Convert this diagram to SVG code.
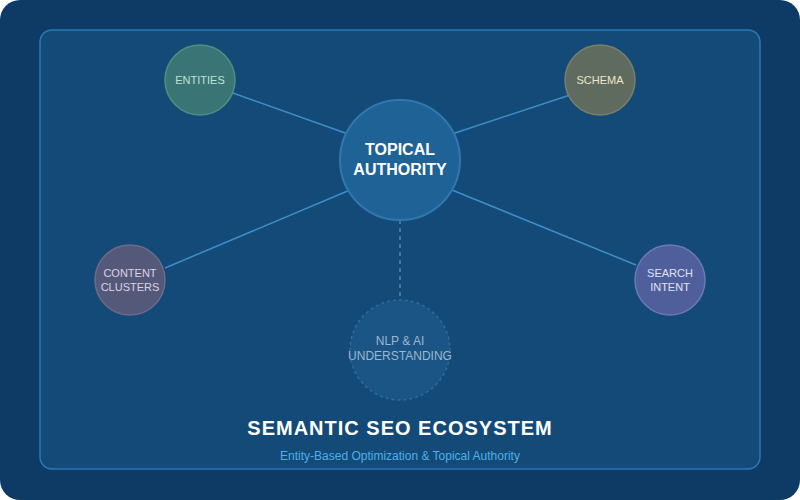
<svg xmlns="http://www.w3.org/2000/svg" width="800" height="500" viewBox="0 0 800 500">
<style>
text{font-family:"Liberation Sans",Arial,sans-serif;text-anchor:middle}
.s{font-size:11px}
.c{stroke:#3d8fc8;stroke-width:1.5;fill:none}
</style>
<rect x="0" y="0" width="800" height="500" rx="20" fill="#0d3b66"/>
<rect x="40" y="30" width="720" height="439" rx="12" fill="#134a77" stroke="#2a7ab8" stroke-width="1.5"/>
<g id="connectors">
<line class="c" x1="230" y1="92" x2="348" y2="134"/>
<line class="c" x1="570" y1="95" x2="452" y2="134"/>
<line class="c" x1="165" y1="268" x2="350" y2="190"/>
<line class="c" x1="636" y1="265" x2="452" y2="190"/>
<line class="c" x1="400" y1="220" x2="400" y2="300" stroke-dasharray="4,4"/>
</g>
<g id="entities"><circle cx="200" cy="80" r="35" fill="#3a7474" stroke="#4f8f85" stroke-width="1.5"/><text class="s" x="200" y="84" fill="#bfe3d8">ENTITIES</text></g>
<g id="schema"><circle cx="600" cy="80" r="35" fill="#5e6b5e" stroke="#7a8068" stroke-width="1.5"/><text class="s" x="600" y="84" fill="#f0e6c8">SCHEMA</text></g>
<g id="content"><circle cx="130" cy="280" r="35" fill="#545879" stroke="#6e6a8e" stroke-width="1.5"/><text class="s" x="130" y="277" fill="#ddd3e6">CONTENT</text><text class="s" x="130" y="291" fill="#ddd3e6">CLUSTERS</text></g>
<g id="intent"><circle cx="670" cy="280" r="35" fill="#4f5f9c" stroke="#6c78b8" stroke-width="1.5"/><text class="s" x="670" y="277" fill="#e0e3f5">SEARCH</text><text class="s" x="670" y="291" fill="#e0e3f5">INTENT</text></g>
<g id="nlp"><circle cx="400" cy="350" r="50" fill="#1a5585" stroke="#2e6c9c" stroke-width="1.5" stroke-dasharray="3,3"/><text x="400" y="345" font-size="12" fill="#9bb8d0">NLP &amp; AI</text><text x="400" y="360" font-size="12" fill="#9bb8d0">UNDERSTANDING</text></g>
<g id="topical"><circle cx="400" cy="160" r="60" fill="#1e6296" stroke="#2f78b0" stroke-width="2"/><text x="400" y="155" font-size="16" font-weight="bold" fill="#ffffff">TOPICAL</text><text x="400" y="175" font-size="16" font-weight="bold" fill="#ffffff">AUTHORITY</text></g>
<text x="400" y="435" font-size="20" font-weight="bold" fill="#ffffff" letter-spacing="1">SEMANTIC SEO ECOSYSTEM</text>
<text x="400" y="460" font-size="12" fill="#4fb0e8">Entity-Based Optimization &amp; Topical Authority</text>
</svg>
